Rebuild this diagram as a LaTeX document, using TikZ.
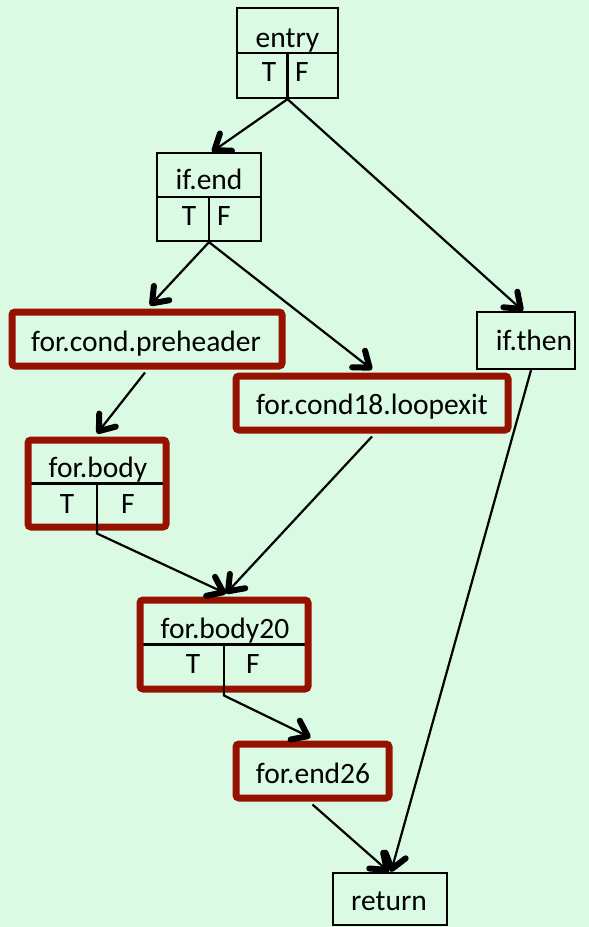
\documentclass[tikz,border=0pt]{standalone}
\usepackage{fontspec}
\setmainfont{Carlito}
\usetikzlibrary{arrows.meta}
\definecolor{bg}{RGB}{218,250,227}
\definecolor{loopred}{RGB}{150,18,0}
\begin{document}
\begin{tikzpicture}[x=1pt,y=-1pt,
  font=\fontsize{29.5}{35}\selectfont,
  blk/.style={draw=black, line width=2.3pt, inner sep=0pt},
  hot/.style={draw=loopred, line width=7pt, rounded corners=3pt, inner sep=0pt},
  lbl/.style={anchor=base, inner sep=0pt},
  divider/.style={draw=black, line width=2.3pt},
  edge/.style={draw=black, line width=2.2pt,
    -{Straight Barb[length=14pt,width=21pt,line width=6pt,round]}}]
\fill[bg] (0,0) rectangle (589,927);
\useasboundingbox (0,0) rectangle (589,927);

% blocks of the control-flow graph
\node[blk, minimum width=101pt, minimum height=90pt] (entry) at (287.5,53) {};
\node[blk, minimum width=104pt, minimum height=88pt] (ifend) at (209,197) {};
\node[blk, minimum width=98pt, minimum height=57pt] (ifthen) at (526,340.5) {};
\node[blk, minimum width=114pt, minimum height=52pt] (ret) at (390,899) {};

% split lines drawn before the loop blocks so the red frame covers their ends
\coordinate (fbc) at (97,483.5);
\coordinate (fb20c) at (224,644.5);
\draw[divider] (28,483.5) -- (166,483.5);
\draw[divider] (140,644.5) -- (308,644.5);

\node[hot, minimum width=270pt, minimum height=54pt] (preheader) at (147,339) {};
\node[hot, minimum width=272pt, minimum height=54pt] (loopexit) at (372,403) {};
\node[hot, minimum width=138pt, minimum height=87pt] (forbody) at (fbc) {};
\node[hot, minimum width=168pt, minimum height=89pt] (forbody20) at (fb20c) {};
\node[hot, minimum width=153pt, minimum height=54pt] (forend26) at (312.5,771) {};

% T / F split lines
\draw[divider] (entry.west) -- (entry.east);
\draw[divider] (entry.center) -- (entry.south);
\draw[divider] (ifend.west) -- (ifend.east);
\draw[divider] (ifend.center) -- (ifend.south);
\draw[divider] (forbody.center) -- (forbody.south);
\draw[divider] (forbody20.center) -- (forbody20.south);

% labels
\node[lbl] (entrytxt) at (287.5,47) {entry};
\node[lbl] (entryT) at (269,81) {T};
\node[lbl] (entryF) at (302,81) {F};
\node[lbl] (ifendtxt) at (209,189) {if.end};
\node[lbl] (ifendT) at (189,225) {T};
\node[lbl] (ifendF) at (224,225) {F};
\node[lbl] (ifthentxt) at (534,350) {if.then};
\node[lbl] (preheadertxt) at (146,351) {for.cond.preheader};
\node[lbl] (loopexittxt) at (372,414) {for.cond18.loopexit};
\node[lbl] (forbodytxt) at (98,477) {for.body};
\node[lbl] (forbodyT) at (67,513) {T};
\node[lbl] (forbodyF) at (128,513) {F};
\node[lbl] (forbody20txt) at (225,638) {for.body20};
\node[lbl] (forbody20T) at (193,673) {T};
\node[lbl] (forbody20F) at (253,673) {F};
\node[lbl] (forend26txt) at (313,783) {for.end26};
\node[lbl] (rettxt) at (389,910) {return};

% control-flow edges
\draw[edge] (entry.south) -- ([xshift=3pt]ifend.north);
\draw[edge] (entry.south) -- ([xshift=-3pt]ifthen.north);
\draw[edge] (ifend.south) -- ([xshift=3pt,yshift=3pt]preheader.north);
\draw[edge] (ifend.south) -- ([yshift=3pt]loopexit.north);
\draw[edge] ([xshift=-2pt,yshift=-3pt]preheader.south) -- ([yshift=3pt]forbody.north);
\draw[edge] ([yshift=-3pt]loopexit.south) -- ([xshift=2pt,yshift=3pt]forbody20.north);
\draw[edge] (forbody.south) -- ++(0,3) -- ([xshift=2pt,yshift=3pt]forbody20.north);
\draw[edge] (forbody20.south) -- ++(0,3) -- ([xshift=-2pt,yshift=3pt]forend26.north);
\draw[edge] ([yshift=-3pt]forend26.south) -- ([xshift=-1pt]ret.north);
\draw[edge] ([xshift=5pt]ifthen.south) -- ([xshift=1pt]ret.north);
\end{tikzpicture}
\end{document}
